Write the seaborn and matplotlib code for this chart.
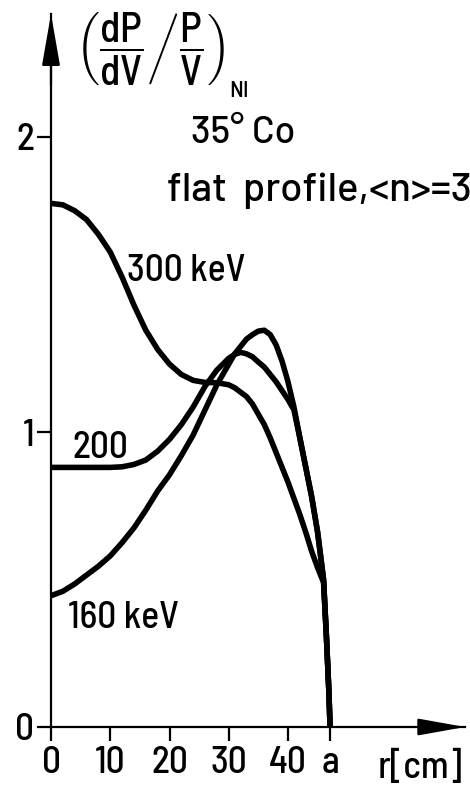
import numpy as np
import pandas as pd
import matplotlib
matplotlib.use("Agg")
import matplotlib.pyplot as plt
from matplotlib.mathtext import MathTextParser
import seaborn as sns

# ---------------- data ----------------
r_cm = [0, 2, 4, 6, 8, 10, 12, 14, 16, 18, 20, 22, 24, 26, 28, 30,
        31, 32, 33, 34, 35, 36, 37, 38, 39, 40, 41, 42, 43, 44, 45, 46,
        46.5, 46.9, 47.1]

e160 = [0.445, 0.46, 0.485, 0.515, 0.545, 0.58, 0.625, 0.675, 0.735, 0.80,
        0.855, 0.92, 0.99, 1.075, 1.16, 1.23,
        1.265, 1.29, 1.315, 1.33, 1.342, 1.345, 1.33, 1.295, 1.24, 1.17,
        1.085, 0.98, 0.88, 0.78, 0.66, 0.50, 0.30, 0.12, 0.0]

e200 = [0.88, 0.88, 0.88, 0.88, 0.88, 0.88, 0.882, 0.89, 0.905, 0.935,
        0.975, 1.025, 1.085, 1.155, 1.21, 1.25,
        1.263, 1.27, 1.265, 1.255, 1.237, 1.22, 1.195, 1.17, 1.14, 1.11,
        1.075, 0.98, 0.88, 0.78, 0.66, 0.50, 0.30, 0.12, 0.0]

e300 = [1.775, 1.77, 1.75, 1.72, 1.67, 1.61, 1.525, 1.43, 1.345, 1.28,
        1.23, 1.195, 1.175, 1.168, 1.167, 1.16,
        1.15, 1.135, 1.12, 1.095, 1.06, 1.025, 0.98, 0.93, 0.88, 0.83,
        0.775, 0.72, 0.66, 0.595, 0.54, 0.49, 0.30, 0.12, 0.0]

energies = ["160 keV", "200 keV", "300 keV"]
x_ticks = [0, 10, 20, 30, 40, 47.1]
x_ticklabels = ["0", "10", "20", "30", "40", "a"]
y_ticks = [0, 1, 2]
y_ticklabels = ["0", "1", "2"]

df = pd.DataFrame({
    "r": r_cm * 3,
    "value": e160 + e200 + e300,
    "energy": sum([[e] * len(r_cm) for e in energies], []),
})

# ---------------- style ----------------
sns.set_style("ticks")
FONT = "Barlow Semi Condensed"
WIDE = "Barlow"
plt.rcParams["font.family"] = [FONT, "DejaVu Sans"]
plt.rcParams["font.weight"] = 500
plt.rcParams["mathtext.fontset"] = "custom"
plt.rcParams["mathtext.rm"] = FONT + ":medium"
plt.rcParams["mathtext.it"] = FONT + ":medium"
plt.rcParams["mathtext.bf"] = FONT + ":bold"
plt.rcParams["mathtext.default"] = "regular"
for k in ["text.color", "axes.labelcolor", "xtick.color", "ytick.color", "axes.edgecolor"]:
    plt.rcParams[k] = "black"

W, H = 470, 787
fig = plt.figure(figsize=(W / 100, H / 100), dpi=100)

def P(x, y):
    return x / W, 1 - y / H

# axes geometry (pixels): x=0 at 51, 10 cm = 59.25 px ; y=0 at 727, 1 unit = 295 px
x0, y0 = 51, 727
xtip, ytip = 465, 14
ax = fig.add_axes([x0 / W, 1 - y0 / H, (xtip - x0) / W, (y0 - ytip) / H])
ax.set_xlim(0, (xtip - x0) / 5.925)
ax.set_ylim(0, (y0 - ytip) / 295.0)

sns.lineplot(data=df, x="r", y="value", hue="energy",
             palette={e: "black" for e in energies}, linewidth=4,
             legend=False, sort=False, ax=ax,
             solid_capstyle="round", solid_joinstyle="round")

for s in ["top", "right"]:
    ax.spines[s].set_visible(False)
for s in ["left", "bottom"]:
    ax.spines[s].set_linewidth(1.6)
    ax.spines[s].set_color("black")

fs = 27
ax.set_xticks(x_ticks)
ax.set_xticklabels(x_ticklabels)
ax.set_yticks(y_ticks)
ax.set_yticklabels(y_ticklabels)
ax.tick_params(axis="both", direction="out", length=10, width=1.6,
               colors="black", labelsize=fs)
ax.tick_params(axis="x", pad=4)
ax.tick_params(axis="y", pad=2)
ax.set_xlabel("")
ax.set_ylabel("")
ax.grid(False)

# arrow heads
ax.annotate("", xy=(1, 0), xytext=(0.9, 0), xycoords="axes fraction",
            arrowprops=dict(arrowstyle="-|>,head_length=29,head_width=5.2",
                            mutation_scale=1, color="black", lw=1.6,
                            shrinkA=0, shrinkB=0), annotation_clip=False)
ax.annotate("", xy=(0, 1), xytext=(0, 0.9), xycoords="axes fraction",
            arrowprops=dict(arrowstyle="-|>,head_length=32,head_width=5.6",
                            mutation_scale=1, color="black", lw=1.6,
                            shrinkA=0, shrinkB=0), annotation_clip=False)

# y-axis quantity label
lab_mid = r"$\left(\dfrac{dP}{dV}\middle/\dfrac{P}{V}\right)$"
lab_alt = r"$\left(\dfrac{dP}{dV}/\dfrac{P}{V}\right)$"
try:
    MathTextParser("path").parse(lab_mid, dpi=100)
    ylab = lab_mid
except Exception:
    ylab = lab_alt
fig.text(*P(75, 11), ylab, fontsize=30, ha="left", va="top")
fig.text(*P(229, 97), "NI", fontsize=17, ha="left", va="baseline")

# annotations
fig.text(*P(191, 143), "35° Co", fontsize=fs, ha="left", va="baseline",
         family=[WIDE, "DejaVu Sans"])
fig.text(*P(167, 201), "flat  profile,<n>=3", fontsize=29, ha="left",
         va="baseline", family=[WIDE, "DejaVu Sans"])
fig.text(*P(127, 281), "300 keV", fontsize=fs, ha="left", va="baseline")
fig.text(*P(72, 458), "200", fontsize=fs, ha="left", va="baseline")
fig.text(*P(68, 628), "160 keV", fontsize=fs, ha="left", va="baseline")
fig.text(*P(378, 778), "r[cm]", fontsize=fs, ha="left", va="baseline")

fig.savefig("out.png", dpi=100, facecolor="white")
